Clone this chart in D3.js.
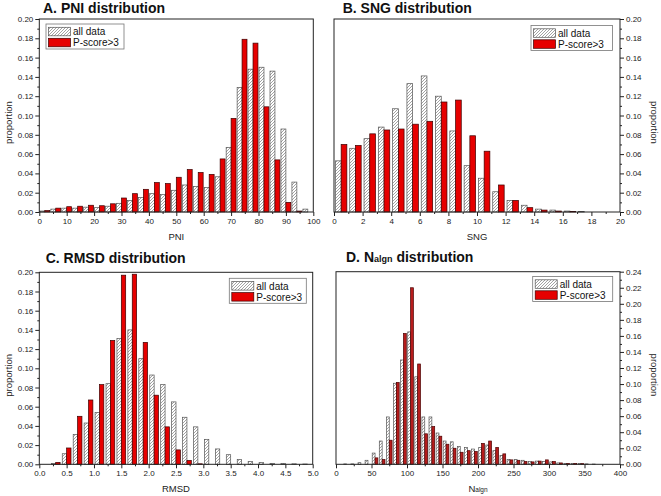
<!DOCTYPE html>
<html><head><meta charset="utf-8">
<script src="https://cdn.jsdelivr.net/npm/d3@7"></script>
<style>body{margin:0;background:#fff}svg{display:block;font-family:Arial,"Liberation Sans",sans-serif}</style>
</head><body><svg id="c" width="661" height="496"></svg>
<script>
// ---------- data ----------
const seriesNames = ["all data", "P-score>3"];

const pniBins = [2,6,10,14,18,22,26,30,34,38,42,46,50,54,58,62,66,70,74,78,82,86,90,94,98];
const pniAll  = [0.001,0.003,0.004,0.004,0.005,0.0045,0.006,0.009,0.012,0.015,0.019,0.018,0.0225,0.028,0.0265,0.0255,0.0365,0.067,0.129,0.148,0.150,0.146,0.086,0.031,0.003];
const pniP3   = [0.0015,0.004,0.0055,0.006,0.007,0.0065,0.0085,0.0145,0.019,0.0235,0.0305,0.0295,0.036,0.044,0.041,0.039,0.055,0.097,0.179,0.175,0.109,0.054,0.010,0.001,0];
const pniXTicks = [0,10,20,30,40,50,60,70,80,90,100];

const sngBins = [0.5,1.5,2.5,3.5,4.5,5.5,6.5,7.5,8.5,9.5,10.5,11.5,12.5,13.5,14.5,15.5,16.5,17.5,18.5,19.5];
const sngAll  = [0.053,0.066,0.076,0.088,0.107,0.133,0.141,0.120,0.084,0.048,0.035,0.021,0.012,0.007,0.003,0.002,0.001,0.0005,0,0];
const sngP3   = [0.070,0.069,0.081,0.085,0.086,0.091,0.094,0.114,0.116,0.079,0.063,0.028,0.012,0.0045,0.002,0.001,0.0005,0,0,0];
const sngXTicks = [0,2,4,6,8,10,12,14,16,18,20];

const rmsdBins = [0.3,0.5,0.7,0.9,1.1,1.3,1.5,1.7,1.9,2.1,2.3,2.5,2.7,2.9,3.1,3.3,3.5,3.7,3.9,4.1,4.3,4.5,4.7,4.9];
const rmsdAll  = [0.001,0.011,0.031,0.043,0.054,0.084,0.131,0.140,0.110,0.093,0.083,0.065,0.049,0.039,0.026,0.016,0.010,0.005,0.003,0.002,0.001,0.001,0.0005,0.0003];
const rmsdP3   = [0.002,0.017,0.050,0.067,0.083,0.129,0.197,0.198,0.127,0.072,0.039,0.015,0.004,0.0005,0,0,0,0,0,0,0,0,0,0];
const rmsdXTicks = [0,0.5,1,1.5,2,2.5,3,3.5,4,4.5,5];

const nalgnBins = [5,15,25,35,45,55,65,75,85,95,105,115,125,135,145,155,165,175,185,195,205,215,225,235,245,255,265,275,285,295,305,315,325,335,345,355,365,375,385,395];
const nalgnAll  = [0,0.0005,0.0005,0.002,0.005,0.014,0.029,0.059,0.101,0.130,0.165,0.109,0.059,0.059,0.039,0.029,0.028,0.022,0.021,0.019,0.021,0.024,0.017,0.011,0.006,0.006,0.005,0.0035,0.004,0.0035,0.003,0.0017,0.001,0.001,0.001,0.0005,0.0003,0,0,0];
const nalgnP3   = [0,0,0,0,0,0.008,0.006,0.030,0.102,0.163,0.220,0.125,0.038,0.047,0.035,0.025,0.020,0.015,0.017,0.016,0.026,0.029,0.021,0.013,0.0055,0.005,0.0035,0.003,0.004,0.0055,0.0035,0.0017,0.001,0.001,0.0008,0,0,0,0,0];
const nalgnXTicks = [0,50,100,150,200,250,300,350,400];

const yTicks20 = [0,0.02,0.04,0.06,0.08,0.10,0.12,0.14,0.16,0.18,0.20];
const yTicks24 = [0,0.02,0.04,0.06,0.08,0.10,0.12,0.14,0.16,0.18,0.20,0.22,0.24];

// ---------- drawing ----------
const svg = d3.select("#c");
const defs = svg.append("defs");
const pat = defs.append("pattern").attr("id","hatch").attr("patternUnits","userSpaceOnUse")
  .attr("width",3).attr("height",3);
pat.append("rect").attr("width",3).attr("height",3).attr("fill","#fff");
pat.append("path").attr("d","M-1,1 L1,-1 M0,3 L3,0 M2,4 L4,2")
  .attr("stroke","#8c8c8c").attr("stroke-width",0.8);

function panel(c){
  const g = svg.append("g");
  const x = d3.scaleLinear().domain(c.xDom).range(c.xRange);
  const y = d3.scaleLinear().domain(c.yDom).range(c.yRange);
  const half = c.binW * c.frac;
  const data = c.bins.map((b,i)=>({c:b, a:c.all[i], p:c.p3[i]}));

  // bars
  g.selectAll(".ha").data(data.filter(d=>d.a>0)).join("rect")
    .attr("x",d=>x(d.c-half)).attr("width",d=>x(d.c)-x(d.c-half))
    .attr("y",d=>y(d.a)).attr("height",d=>y(0)-y(d.a))
    .attr("fill","url(#hatch)").attr("stroke","#555").attr("stroke-width",0.7);
  g.selectAll(".rd").data(data.filter(d=>d.p>0)).join("rect")
    .attr("x",d=>x(d.c)).attr("width",d=>x(d.c+half)-x(d.c))
    .attr("y",d=>y(d.p)).attr("height",d=>y(0)-y(d.p))
    .attr("fill",c.red).attr("stroke",c.redStroke).attr("stroke-width",0.7);

  // frame
  g.append("rect").attr("x",c.xRange[0]).attr("y",c.yRange[1])
    .attr("width",c.xRange[1]-c.xRange[0]).attr("height",c.yRange[0]-c.yRange[1])
    .attr("fill","none").attr("stroke","#222").attr("stroke-width",1);

  // x axis
  const xa = g.append("g").attr("transform",`translate(0,${c.yRange[0]})`)
    .call(d3.axisBottom(x).tickValues(c.xTicks).tickSize(4).tickPadding(2).tickFormat(c.xFmt));
  const xm = g.append("g").attr("transform",`translate(0,${c.yRange[0]})`)
    .call(d3.axisBottom(x).tickValues(c.xMinor).tickSize(2).tickFormat(""));
  // y axis
  const yAxisFn = c.right ? d3.axisRight(y) : d3.axisLeft(y);
  const yPos = c.right ? c.xRange[1] : c.xRange[0];
  const ya = g.append("g").attr("transform",`translate(${yPos},0)`)
    .call(yAxisFn.tickValues(c.yTicks).tickSize(4).tickPadding(2).tickFormat(d3.format(".2f")));
  const yMinorFn = c.right ? d3.axisRight(y) : d3.axisLeft(y);
  const ym = g.append("g").attr("transform",`translate(${yPos},0)`)
    .call(yMinorFn.tickValues(c.yMinor).tickSize(2).tickFormat(""));
  [xa,xm,ya,ym].forEach(a=>{
    a.select(".domain").remove();
    a.selectAll("line").attr("stroke","#222");
    a.selectAll("text").attr("font-size",8).attr("fill","#222")
      .attr("font-family","Arial, 'Liberation Sans', sans-serif");
  });

  // title
  const t = g.append("text").attr("x",c.titleX).attr("y",c.titleY)
    .attr("font-size",14).attr("font-weight","bold").attr("fill","#111");
  c.title.forEach(p=>t.append("tspan").attr("font-size",p[1]).text(p[0]));

  // x label
  const xl = g.append("text").attr("x",(c.xRange[0]+c.xRange[1])/2).attr("y",c.yRange[0]+28)
    .attr("text-anchor","middle").attr("fill","#222");
  c.xLabel.forEach(p=>xl.append("tspan").attr("font-size",p[1]).text(p[0]));

  // y label
  const ymid = (c.yRange[0]+c.yRange[1])/2 + 7;
  if(c.right){
    g.append("text").attr("transform",`translate(650.5,${ymid}) rotate(90)`)
      .attr("text-anchor","middle").attr("font-size",9.5).attr("fill","#222").text("proportion");
  } else {
    g.append("text").attr("transform",`translate(11.5,${ymid}) rotate(-90)`)
      .attr("text-anchor","middle").attr("font-size",9.5).attr("fill","#222").text("proportion");
  }

  // legend
  const lx=c.leg[0], ly=c.leg[1], lw=c.leg[2];
  const lg = g.append("g");
  lg.append("rect").attr("x",lx).attr("y",ly).attr("width",lw).attr("height",25)
    .attr("fill","#fff").attr("stroke","#777").attr("stroke-width",0.8);
  lg.append("rect").attr("x",lx+2.5).attr("y",ly+3.3).attr("width",22).attr("height",8.5)
    .attr("fill","url(#hatch)").attr("stroke","#555").attr("stroke-width",0.7);
  lg.append("rect").attr("x",lx+2.5).attr("y",ly+14.3).attr("width",22).attr("height",8.5)
    .attr("fill","#e60000").attr("stroke","#3a0000").attr("stroke-width",0.7);
  lg.append("text").attr("x",lx+27).attr("y",ly+11.3).attr("font-size",10).attr("fill","#111").text(seriesNames[0]);
  lg.append("text").attr("x",lx+27).attr("y",ly+22.4).attr("font-size",10).attr("fill","#111").text(seriesNames[1]);
}

const fmt1 = d3.format(".1f");
const fmtInt = d3.format("d");

panel({xDom:[0,100], xRange:[39.3,313.3], yDom:[0,0.2], yRange:[212,19],
  bins:pniBins, all:pniAll, p3:pniP3, binW:4, frac:0.45, red:"#e60000", redStroke:"#3a0000",
  xTicks:pniXTicks, xMinor:d3.range(5,100,10), xFmt:fmtInt,
  yTicks:yTicks20, yMinor:d3.range(0.01,0.2,0.02), right:false,
  title:[["A. PNI distribution",14]], titleX:43, titleY:13,
  xLabel:[["PNI",9.5]], leg:[46,24,78]});

panel({xDom:[0,20], xRange:[334,620], yDom:[0,0.2], yRange:[212,19],
  bins:sngBins, all:sngAll, p3:sngP3, binW:1, frac:0.4, red:"#e60000", redStroke:"#3a0000",
  xTicks:sngXTicks, xMinor:d3.range(1,20,2), xFmt:fmtInt,
  yTicks:yTicks20, yMinor:d3.range(0.01,0.2,0.02), right:true,
  title:[["B. SNG distribution",14]], titleX:342.7, titleY:13,
  xLabel:[["SNG",9.5]], leg:[531,25.5,81.5]});

panel({xDom:[0,5], xRange:[39.3,312.7], yDom:[0,0.2], yRange:[464.3,272.3],
  bins:rmsdBins, all:rmsdAll, p3:rmsdP3, binW:0.2, frac:0.4, red:"#e60000", redStroke:"#3a0000",
  xTicks:rmsdXTicks, xMinor:d3.range(0.25,5,0.5), xFmt:fmt1,
  yTicks:yTicks20, yMinor:d3.range(0.01,0.2,0.02), right:false,
  title:[["C. RMSD distribution",14]], titleX:45.7, titleY:262.5,
  xLabel:[["RMSD",9.5]], leg:[229.3,278.3,77]});

panel({xDom:[0,400], xRange:[336,620], yDom:[0,0.24], yRange:[464.3,271.7],
  bins:nalgnBins, all:nalgnAll, p3:nalgnP3, binW:10, frac:0.4, red:"#b71c1c", redStroke:"#4a0000",
  xTicks:nalgnXTicks, xMinor:d3.range(25,400,50), xFmt:fmtInt,
  yTicks:yTicks24, yMinor:d3.range(0.01,0.24,0.02), right:true,
  title:[["D. N",14],["algn",9],[" distribution",14]], titleX:346, titleY:262,
  xLabel:[["N",9.5],["algn",6.5]], leg:[532.7,276.5,80]});
</script></body></html>
